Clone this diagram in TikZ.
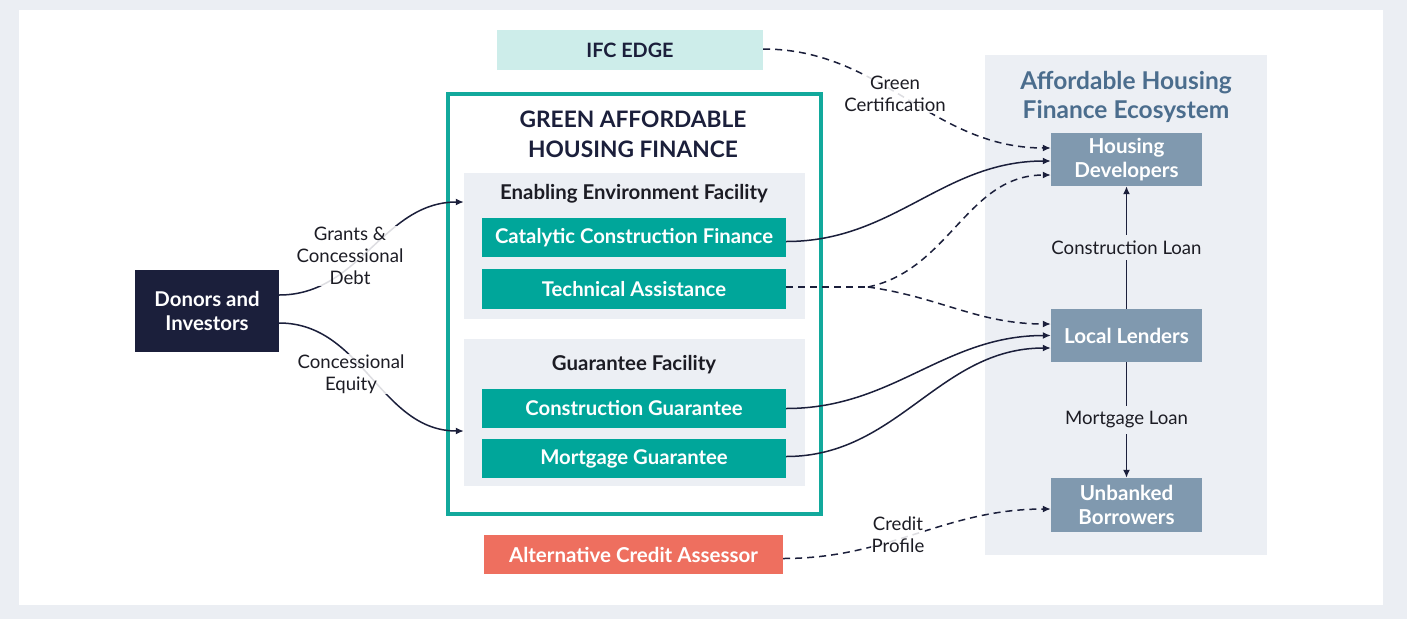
\documentclass[tikz,border=0pt]{standalone}
\usepackage{fontspec}
\setmainfont{Lato}
\usetikzlibrary{arrows.meta}
\definecolor{bggray}{HTML}{EBEEF3}
\definecolor{panelgray}{HTML}{ECEFF4}
\definecolor{tealbox}{HTML}{00A69A}
\definecolor{tealframe}{HTML}{12A99C}
\definecolor{navy}{HTML}{1B1F3B}
\definecolor{slate}{HTML}{8099AF}
\definecolor{titleblue}{HTML}{4B6D8D}
\definecolor{salmon}{HTML}{EE6F5F}
\definecolor{paleteal}{HTML}{CDEDEA}
\definecolor{labeltext}{HTML}{1C1C24}
\tikzset{
  box/.style={inner sep=0pt, align=center, text=white,
    font=\fontsize{20.3}{23}\selectfont\bfseries},
  tealbox/.style={box, fill=tealbox, minimum width=304pt, minimum height=39pt},
  ecobox/.style={box, fill=slate, minimum width=151pt, minimum height=53pt,
    font=\fontsize{20.6}{23.5}\selectfont\bfseries},
  panel/.style={fill=panelgray, inner sep=0pt},
  heading/.style={align=center, text=navy, font=\fontsize{22.7}{30}\selectfont\bfseries},
  subheading/.style={align=center, text=labeltext, font=\fontsize{20.4}{22}\selectfont\bfseries},
  flowlabel/.style={align=center, text=labeltext, inner sep=1pt,
    font=\fontsize{18.6}{22}\selectfont},
  link/.style={draw=navy, line width=1.5pt, -{Latex[length=8pt,width=7pt]}},
  dashlink/.style={link, dash pattern=on 7pt off 5pt},
  plainline/.style={draw=navy, line width=1.5pt, dash pattern=on 7pt off 5pt},
}
\begin{document}
\begin{tikzpicture}[x=1pt,y=-1pt]
\useasboundingbox (0,0) rectangle (1407,619);
\fill[bggray] (0,0) rectangle (1407,619);
\fill[white] (19,10) rectangle (1383,605);

% right-hand ecosystem panel
\node[panel, minimum width=282pt, minimum height=500pt] (eco) at (1126,305) {};
\node[align=center, text=titleblue, font=\fontsize{24.5}{29.5}\selectfont\bfseries]
  (ecotitle) at (1126,97) {Affordable Housing\\Finance Ecosystem};
\node[ecobox] (hd) at (1126.5,159.5) {Housing\\Developers};
\node[ecobox] (ll) at (1126.5,335.5) {Local Lenders};
\node[ecobox, minimum height=54pt] (ub) at (1126.5,505) {Unbanked\\Borrowers};

% central programme frame
\node[draw=tealframe, line width=4pt, minimum width=373pt, minimum height=420pt,
  inner sep=0pt] (gahf) at (634.5,304) {};
\node[heading] (gahftitle) at (633,134) {GREEN AFFORDABLE\\HOUSING FINANCE};

\node[panel, minimum width=341pt, minimum height=146pt] (eef) at (634.5,246) {};
\node[subheading] (eeftitle) at (634,194) {Enabling Environment Facility};
\node[tealbox] (ccf) at (634,237.5) {Catalytic Construction Finance};
\node[tealbox, minimum height=40pt] (ta) at (634,289) {Technical Assistance};

\node[panel, minimum width=341pt, minimum height=147pt] (gf) at (634.5,412.5) {};
\node[subheading] (gftitle) at (634,365) {Guarantee Facility};
\node[tealbox] (cg) at (634,408.5) {Construction Guarantee};
\node[tealbox] (mg) at (634,458.5) {Mortgage Guarantee};

% side boxes
\node[box, fill=navy, minimum width=144pt, minimum height=82pt,
  font=\fontsize{20.4}{24}\selectfont\bfseries] (donors) at (207,311) {Donors and\\Investors};
\node[box, fill=paleteal, text=navy, minimum width=266pt, minimum height=40pt,
  font=\fontsize{19.8}{22}\selectfont\bfseries] (ifc) at (630,50) {IFC EDGE};
\node[box, fill=salmon, minimum width=299pt, minimum height=39pt,
  font=\fontsize{20.5}{23}\selectfont\bfseries] (aca) at (633.5,554.5)
  {Alternative Credit Assessor};

% funding flows
\draw[link] ([yshift=16pt]donors.east) to[out=0,in=180] ([yshift=44pt]eef.west);
\draw[link] ([yshift=-12pt]donors.east) to[out=0,in=180] ([yshift=-18.5pt]gf.west);

\draw[dashlink] ([yshift=1pt]ifc.east) to[out=0,in=180] ([yshift=11.5pt]hd.west);
\draw[link] ([yshift=-4pt]ccf.east) to[out=0,in=180] ([yshift=-1.5pt]hd.west);

\coordinate (split) at (868,287);
\draw[plainline] ([yshift=2pt]ta.east) -- (split);
\draw[dashlink] (split) to[out=12,in=180] ([yshift=-15.5pt]hd.west);
\draw[dashlink] (split) to[out=-8,in=180] ([yshift=11.5pt]ll.west);

\draw[link] (cg.east) to[out=0,in=180] (ll.west);
\draw[link] ([yshift=2pt]mg.east) to[out=0,in=180] ([yshift=-12.5pt]ll.west);

\draw[dashlink] ([yshift=-4pt]aca.east) to[out=0,in=180] ([yshift=-4pt]ub.west);

\draw[link] (ll.north) -- node[flowlabel, fill=panelgray, inner ysep=6pt] (cl) {Construction Loan} (hd.south);
\draw[link] (ll.south) -- node[flowlabel, fill=panelgray, inner ysep=6pt] (ml) {Mortgage Loan} (ub.north);

% labels laid over the flows
\begin{scope}[every node/.append style={fill=white, fill opacity=0.85, text opacity=1}]
\node[flowlabel] (grants) at (350,256) {Grants \&\\Concessional\\Debt};
\node[flowlabel] (equity) at (351,374) {Concessional\\Equity};
\node[flowlabel] (cert) at (895,94) {Green\\Certification};
\node[flowlabel] (credit) at (898,535) {Credit\\Profile};
\end{scope}
\end{tikzpicture}
\end{document}
